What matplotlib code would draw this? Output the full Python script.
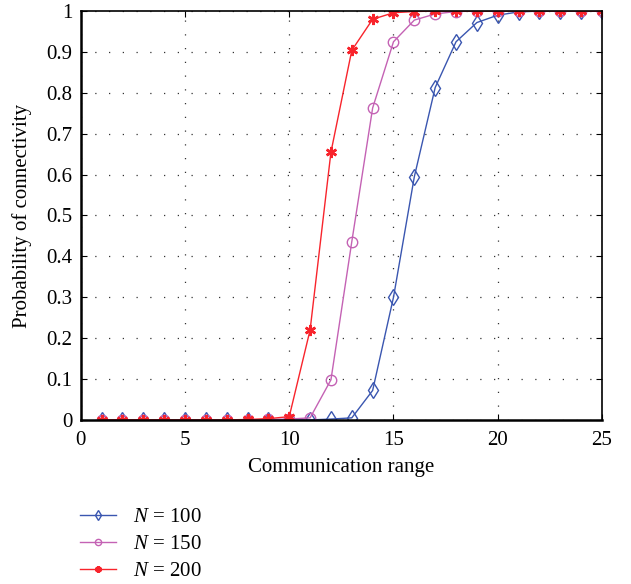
import numpy as np
import matplotlib.pyplot as plt

plt.rcParams['font.family'] = ['Liberation Serif', 'DejaVu Serif']
plt.rcParams['mathtext.fontset'] = 'custom'
plt.rcParams['mathtext.it'] = 'Liberation Serif:italic'
plt.rcParams['mathtext.rm'] = 'Liberation Serif'

# Datos
rango = np.arange(1, 26)
p_n100 = [0, 0, 0, 0, 0, 0, 0, 0, 0, 0, 0, 0.002, 0.005, 0.072, 0.30,
          0.595, 0.813, 0.925, 0.972, 0.990, 0.998, 1, 1, 1, 1]
p_n150 = [0, 0, 0, 0, 0, 0, 0, 0, 0.001, 0.002, 0.005, 0.098, 0.436, 0.763, 0.925,
          0.978, 0.993, 0.999, 1, 1, 1, 1, 1, 1, 1]
p_n200 = [0, 0, 0, 0, 0, 0, 0, 0.001, 0.003, 0.008, 0.22, 0.655, 0.904, 0.98, 0.996,
          0.999, 1, 1, 1, 1, 1, 1, 1, 1, 1]
etiquetas = ['$N$ = 100', '$N$ = 150', '$N$ = 200']

fig = plt.figure(figsize=(6.31, 5.84), dpi=100)
ax = fig.add_axes([0.128, 0.281, 0.826, 0.700])

ax.plot(rango, p_n100, color='#3a56b0', marker='d', markersize=8.5,
        markerfacecolor='none', linewidth=1, label=etiquetas[0])
ax.plot(rango, p_n150, color='#c462b4', marker='o', markersize=7.5,
        markerfacecolor='none', linewidth=1, label=etiquetas[1])
ax.plot(rango, p_n200, color='#f8242c', marker=(6, 2, 0), markersize=8,
        markeredgewidth=1.8, linewidth=1, label=etiquetas[2])

ax.set_xlim(0, 25)
ax.set_ylim(0, 1)
ax.set_xticks(np.arange(0, 26, 5))
ax.set_yticks(np.arange(0, 1.01, 0.1))
ax.set_yticklabels(['0', '0.1', '0.2', '0.3', '0.4', '0.5', '0.6', '0.7', '0.8', '0.9', '1'])
ax.tick_params(direction='in', top=True, right=True, labelsize=15, length=4)
ax.tick_params(axis='x', pad=8)
ax.tick_params(axis='y', pad=6)
ax.grid(True, color='#333333', linestyle=(0, (1, 10)), linewidth=0.9)
for s in ax.spines.values():
    s.set_linewidth(1.2)
ax.spines['left'].set_linewidth(1.8)
ax.spines['bottom'].set_linewidth(1.8)
ax.set_xlabel('Communication range', fontsize=15, labelpad=6)
ax.set_ylabel('Probability of connectivity', fontsize=15, labelpad=10)

fig.legend(loc='upper left', bbox_to_anchor=(0.114, 0.145), frameon=False,
           fontsize=15, handlelength=1.7, handletextpad=0.85, markerscale=0.6,
           labelspacing=0.35, borderaxespad=0)

fig.savefig('out.png', dpi=100)
